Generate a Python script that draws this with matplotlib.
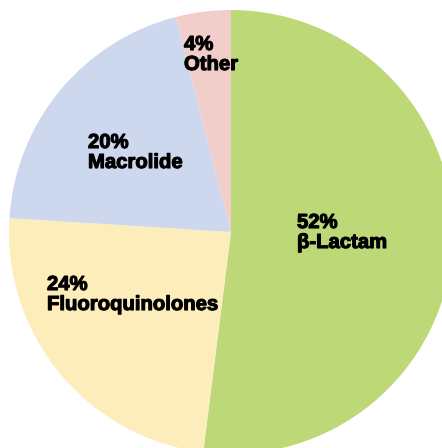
import matplotlib
matplotlib.use("Agg")
import matplotlib.pyplot as plt
import matplotlib.patheffects as pe

# Share of antibiotic classes
classes = ["β-Lactam", "Fluoroquinolones", "Macrolide", "Other"]
shares = [52, 24, 20, 4]
colors = ["#bdd977", "#fcedbb", "#cdd7ee", "#f1cec9"]

# label anchors (left x, baseline y of the percent line), in pixels from the top-left
label_pos = [(297, 228), (47, 290), (88, 148), (184, 50)]

W, H = 442, 448
fig = plt.figure(figsize=(W / 100, H / 100), dpi=100)
ax = fig.add_axes([0, 0, 1, 1])

ax.pie(shares, colors=colors, startangle=90, counterclock=False,
       center=(231, H - 232), radius=222,
       wedgeprops=dict(linewidth=0), frame=True)

# heavier look for the labels
heavy = [pe.withStroke(linewidth=0.8, foreground="black")]
font = dict(family=["Liberation Sans", "DejaVu Sans"], fontsize=14.6,
            fontweight="bold", color="black", ha="left", va="baseline",
            path_effects=heavy)
for name, share, (x, y) in zip(classes, shares, label_pos):
    ax.text(x, H - y, f"{share}%", **font)
    ax.text(x, H - y - 20, name, **font)

ax.set_xlim(0, W)
ax.set_ylim(0, H)
ax.set_aspect("equal")
ax.axis("off")

fig.savefig("out.png", dpi=100)
